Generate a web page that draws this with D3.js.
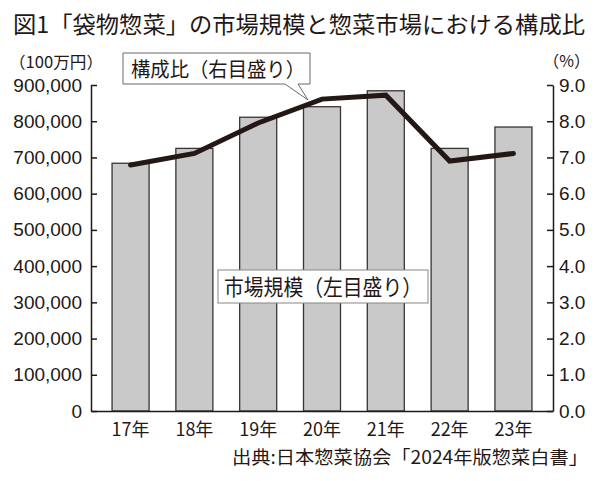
<!DOCTYPE html>
<html><head><meta charset="utf-8">
<script src="https://cdn.jsdelivr.net/npm/d3@7/dist/d3.min.js"></script>
<style>
body{margin:0;background:#fff;}
svg{display:block;}
</style></head>
<body>
<svg id="chart" width="600" height="481"></svg>
<script>
const categories = ["17年","18年","19年","20年","21年","22年","23年"];
const marketSize = [684000, 725000, 811000, 840000, 884000, 725000, 784000];
const shareRatio = [6.79, 7.11, 7.95, 8.61, 8.72, 6.90, 7.11];
const leftTicks = [0,100000,200000,300000,400000,500000,600000,700000,800000,900000];
const rightTicks = [0,1,2,3,4,5,6,7,8,9];

const ink = "#231815";
const jp = "'Noto Sans CJK JP', sans-serif";
const num = "'Liberation Sans', Arial, sans-serif";

const svg = d3.select("#chart");
const L = 91, R = 553, T = 85, B = 411;

const x = d3.scaleBand().domain(categories).range([L, R]).paddingInner(0.42).paddingOuter(0.33);
const yL = d3.scaleLinear().domain([0, 900000]).range([B, T]);
const yR = d3.scaleLinear().domain([0, 9]).range([B, T]);

// Title
svg.append("text").attr("x", 13).attr("y", 33)
  .attr("font-family", jp).attr("font-size", 23).attr("font-weight", 400).attr("fill", ink)
  .attr("textLength", 572).attr("lengthAdjust", "spacingAndGlyphs")
  .text("図1「袋物惣菜」の市場規模と惣菜市場における構成比");

// Unit labels
svg.append("text").attr("x", 9).attr("y", 68)
  .attr("font-family", jp).attr("font-size", 16).attr("fill", ink)
  .attr("textLength", 94).attr("lengthAdjust", "spacingAndGlyphs")
  .text("（100万円）");
svg.append("text").attr("x", 590).attr("y", 67).attr("text-anchor", "end")
  .attr("font-family", jp).attr("font-size", 16).attr("fill", ink)
  .text("（%）");

// Bars
svg.append("g").selectAll("rect").data(categories).join("rect")
  .attr("x", d => x(d))
  .attr("y", (d, i) => yL(marketSize[i]))
  .attr("width", x.bandwidth())
  .attr("height", (d, i) => B - yL(marketSize[i]))
  .attr("fill", "#c9c9ca").attr("stroke", "#3a3433").attr("stroke-width", 1.3);

// Axes
const fmt = d3.format(",");
const gL = svg.append("g").attr("transform", `translate(${L},0)`)
  .call(d3.axisLeft(yL).tickValues(leftTicks).tickSizeInner(-6).tickSizeOuter(0).tickPadding(9).tickFormat(fmt));
const gR = svg.append("g").attr("transform", `translate(${R},0)`)
  .call(d3.axisRight(yR).tickValues(rightTicks).tickSizeInner(-6).tickSizeOuter(0).tickPadding(6).tickFormat(d3.format(".1f")));
const gB = svg.append("g").attr("transform", `translate(0,${B})`)
  .call(d3.axisBottom(x).tickSize(0).tickPadding(12));

[gL, gR, gB].forEach(g => {
  g.select(".domain").attr("stroke", ink).attr("stroke-width", 1.5);
  g.selectAll(".tick line").attr("stroke", ink).attr("stroke-width", 1.5);
  g.selectAll("text").attr("fill", ink).attr("font-size", 19).attr("font-family", num);
});
gB.selectAll("text").attr("font-family", jp).attr("font-size", 18);

// Line
const line = d3.line()
  .x((d, i) => x(categories[i]) + x.bandwidth() / 2)
  .y(d => yR(d));
svg.append("path").datum(shareRatio)
  .attr("d", line).attr("fill", "none")
  .attr("stroke", ink).attr("stroke-width", 5)
  .attr("stroke-linejoin", "miter").attr("stroke-linecap", "round");

// Callout: 構成比(右目盛り)
svg.append("path")
  .attr("d", "M123,53 H310 V84 H298 L308,100 L285,84 H123 Z")
  .attr("fill", "#fff").attr("stroke", "#6d6766").attr("stroke-width", 1);
svg.append("text").attr("x", 131).attr("y", 77)
  .attr("font-family", jp).attr("font-size", 20).attr("fill", ink)
  .attr("textLength", 174).attr("lengthAdjust", "spacingAndGlyphs")
  .text("構成比（右目盛り）");

// Label: 市場規模(左目盛り)
svg.append("rect").attr("x", 218).attr("y", 270).attr("width", 210).attr("height", 33)
  .attr("fill", "#fff").attr("stroke", "#8a8584").attr("stroke-width", 1);
svg.append("text").attr("x", 224).attr("y", 295)
  .attr("font-family", jp).attr("font-size", 22).attr("fill", ink)
  .attr("textLength", 198).attr("lengthAdjust", "spacingAndGlyphs")
  .text("市場規模（左目盛り）");

// Source
svg.append("text").attr("x", 588).attr("y", 464).attr("text-anchor", "end")
  .attr("font-family", jp).attr("font-size", 18).attr("fill", ink)
  .attr("textLength", 356).attr("lengthAdjust", "spacingAndGlyphs")
  .text("出典:日本惣菜協会「2024年版惣菜白書」");
</script>
</body></html>
